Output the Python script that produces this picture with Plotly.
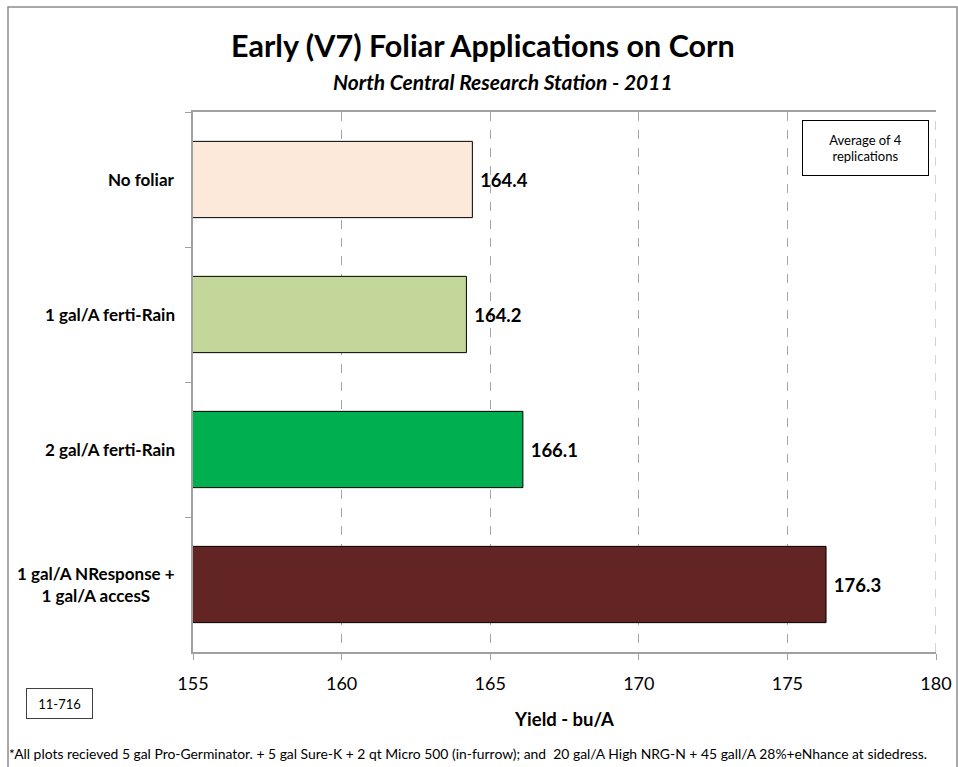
import plotly.graph_objects as go

categories = ["No foliar", "1 gal/A ferti-Rain", "2 gal/A ferti-Rain", "1 gal/A NResponse +<br>1 gal/A accesS"]
values = [164.4, 164.2, 166.1, 176.3]
colors = ["#FDE9D9", "#C4D79B", "#00B050", "#632523"]
x_ticks = [155, 160, 165, 170, 175, 180]

W, H = 958, 767
L, R, T, B = 193, 936, 112, 652
PW, PH = R - L, B - T

def px(x):
    return (x - L) / PW

def py(y):
    return (B - y) / PH

FONT = "Lato, Open Sans, sans-serif"

fig = go.Figure()
fig.add_trace(go.Bar(
    x=values, y=categories, orientation="h",
    marker=dict(color=colors, line=dict(color="#000000", width=1)),
    width=0.565,
    text=[f"\u00a0<b>{v:.1f}</b>" for v in values], textposition="outside",
    textfont=dict(size=18.5, color="#000000", family=FONT),
    cliponaxis=False, hoverinfo="skip",
))

fig.update_layout(
    width=W, height=H,
    margin=dict(l=L, r=W - R, t=T, b=H - B, pad=0, autoexpand=False),
    paper_bgcolor="white", plot_bgcolor="white",
    font=dict(family=FONT, color="#000000"),
    showlegend=False,
)
fig.update_xaxes(
    range=[155, 180], tickvals=x_ticks, ticktext=[str(t) for t in x_ticks],
    showgrid=True, gridcolor="#A6A6A6", griddash="dash", gridwidth=1,
    showline=True, linecolor="#A0A0A0", linewidth=1.5, mirror=True,
    ticks="outside", ticklen=6, tickcolor="#A0A0A0", ticklabelstandoff=9,
    tickfont=dict(size=18, family=FONT), zeroline=False, automargin=False,
    title=dict(text="<b>Yield - bu/A</b>", font=dict(size=18.5, family=FONT), standoff=20),
)
fig.update_yaxes(
    type="category", categoryorder="array", categoryarray=categories,
    autorange="reversed", showticklabels=False, automargin=False,
    tickson="boundaries", ticks="outside", ticklen=6, tickcolor="#A0A0A0",
    showline=True, linecolor="#A0A0A0", linewidth=1.5, showgrid=False, zeroline=False,
)

# Gridline at the right edge (180), drawn dashed like the others
fig.add_shape(type="line", xref="x", yref="paper", x0=x_ticks[-1], x1=x_ticks[-1], y0=0, y1=1,
              line=dict(color="#A6A6A6", width=1, dash="dash"), layer="below")

for c in categories:
    fig.add_annotation(
        x=px(177), xref="paper", y=c, yref="y", xanchor="right", yanchor="middle",
        text=f"<b>{c}</b>", showarrow=False, align="center",
        font=dict(size=17, family=FONT, color="#000000"),
    )

# Titles
fig.add_annotation(x=px(483), y=py(45), xref="paper", yref="paper", xanchor="center", yanchor="middle",
                   text="<b>Early (V7) Foliar Applications on Corn</b>", showarrow=False,
                   font=dict(size=30.5, family=FONT))
fig.add_annotation(x=px(503), y=py(81), xref="paper", yref="paper", xanchor="center", yanchor="middle",
                   text="<b><i>North Central Research Station - 2011</i></b>", showarrow=False,
                   font=dict(size=21, family=FONT))

# Boxes
fig.add_annotation(x=px(865.5), y=py(148), xref="paper", yref="paper", xanchor="center", yanchor="middle",
                   text="Average of 4<br>replications", showarrow=False, align="center",
                   width=123, height=52, bordercolor="#000000", borderwidth=1, borderpad=1,
                   bgcolor="white", font=dict(size=13, family=FONT))
fig.add_annotation(x=px(59.5), y=py(703), xref="paper", yref="paper", xanchor="center", yanchor="middle",
                   text="11-716", showarrow=False, align="center",
                   width=63, height=27, bordercolor="#404040", borderwidth=1, borderpad=1,
                   bgcolor="white", font=dict(size=13, family=FONT))

# Footnote
fig.add_annotation(x=px(7), y=py(753), xref="paper", yref="paper", xanchor="left", yanchor="middle",
                   text="*All plots recieved 5 gal Pro-Germinator. + 5 gal Sure-K + 2 qt Micro 500 (in-furrow); and  20 gal/A High NRG-N + 45 gall/A 28%+eNhance at sidedress.",
                   showarrow=False, font=dict(size=13.9, family=FONT))

# Outer chart border
fig.add_shape(type="rect", xref="paper", yref="paper",
              x0=px(8), x1=px(957), y0=py(780), y1=py(7),
              line=dict(color="#8C8C8C", width=1.5), layer="below")

fig.write_html("out.html", config={"displayModeBar": False, "responsive": False},
               post_script="document.body.style.margin='0';document.body.style.overflow='hidden';")
